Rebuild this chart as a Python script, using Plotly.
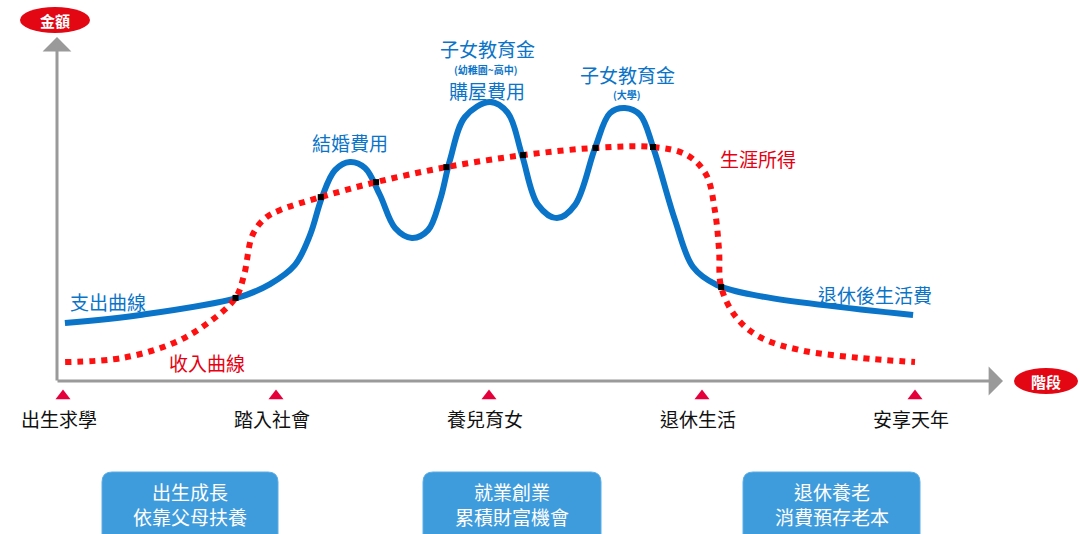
import plotly.graph_objects as go

# ---------------- data ----------------
stages = ["出生求學", "踏入社會", "養兒育女", "退休生活", "安享天年"]
stage_pos = [0, 1, 2, 3, 4]

# expenditure curve (支出曲線): x = life stage, y = amount
spend_x = [0.009, 0.362, 0.817, 0.972, 1.089, 1.160, 1.216, 1.277, 1.347, 1.418, 1.488,
           1.559, 1.638, 1.714, 1.770, 1.817, 1.887, 2.005, 2.089, 2.155, 2.230, 2.319,
           2.404, 2.498, 2.568, 2.638, 2.709, 2.770, 2.873, 2.958, 3.070, 3.272, 3.991]
spend_y = [19.3, 22.0, 27.7, 32.3, 38.7, 48.7, 61.3, 70.3, 73.0, 71.0, 62.0,
           51.0, 47.7, 50.3, 60.3, 73.7, 88.0, 93.0, 89.3, 75.3, 58.7, 54.3,
           58.7, 77.7, 89.3, 91.0, 88.7, 78.0, 53.7, 38.0, 32.0, 28.3, 22.0]

# income curve (收入曲線 / 生涯所得)
income_x = [0.01, 0.28, 0.52, 0.68, 0.81, 0.85, 0.89, 0.95, 1.02, 1.21, 1.47, 1.80, 2.16,
            2.50, 2.77, 2.93, 3.02, 3.06, 3.08, 3.09, 3.16, 3.27, 3.46, 3.74, 4.00]
income_y = [6.3, 7.7, 12.7, 19.3, 27.7, 35.3, 48.7, 54.3, 57.0, 61.3, 66.3, 71.3, 75.3,
            77.7, 78.0, 75.3, 68.7, 57.0, 43.7, 31.3, 21.3, 14.7, 10.3, 7.7, 6.3]

# crossing points of the two curves
cross_x = [0.81, 1.21, 1.47, 1.80, 2.16, 2.50, 2.77, 3.09]
cross_y = [27.7, 61.3, 66.3, 71.3, 75.3, 77.7, 78.0, 31.3]

# curve labels
blue_labels = ["支出曲線", "結婚費用", "子女教育金", "購屋費用", "子女教育金", "退休後生活費"]
blue_small_labels = ["(幼稚園~高中)", "(大學)"]
red_labels = ["收入曲線", "生涯所得"]

# phase boxes
phase_lines = [["出生成長", "依靠父母扶養"], ["就業創業", "累積財富機會"], ["退休養老", "消費預存老本"]]

# ---------------- helpers (pixel -> data) ----------------
X0, XS, Y0, YS = 63.0, 213.0, 381.0, 3.0
def px(p):
    return (p - X0) / XS
def py(p):
    return (Y0 - p) / YS

FONT = "Noto Sans CJK TC"
BLUE = "#0a74c8"
RED = "#ff1010"
GREY = "#9a9a9a"
FS = 19

fig = go.Figure()

fig.add_trace(go.Scatter(x=spend_x, y=spend_y, mode="lines",
                         line=dict(color=BLUE, width=6, shape="spline", smoothing=1.0),
                         hoverinfo="skip"))
fig.add_trace(go.Scatter(x=income_x, y=income_y, mode="lines",
                         line=dict(color=RED, width=6, shape="spline", smoothing=1.0, dash="6px,6px"),
                         hoverinfo="skip"))
fig.add_trace(go.Scatter(x=cross_x, y=cross_y, mode="markers",
                         marker=dict(color="black", size=6, symbol="square"),
                         hoverinfo="skip"))
# stage triangles
fig.add_trace(go.Scatter(x=stage_pos, y=[py(396)] * len(stage_pos), mode="markers",
                         marker=dict(color="#e5003c", size=13, symbol="triangle-up"),
                         hoverinfo="skip"))

ann = []
shapes = []

# axes with arrows
ann.append(dict(x=px(57), y=py(37), ax=px(57), ay=py(382), xref="x", yref="y", axref="x", ayref="y",
                showarrow=True, arrowhead=1, arrowsize=1.6, arrowwidth=3, arrowcolor=GREY, text=""))
ann.append(dict(x=px(1003), y=py(381), ax=px(56), ay=py(381), xref="x", yref="y", axref="x", ayref="y",
                showarrow=True, arrowhead=1, arrowsize=1.6, arrowwidth=3, arrowcolor=GREY, text=""))

# ovals
for (cx, cy, w, h, t) in [(55, 20, 70, 26, "金額"), (1046, 381, 64, 26, "階段")]:
    shapes.append(dict(type="circle", xref="x", yref="y", x0=px(cx - w / 2), x1=px(cx + w / 2),
                       y0=py(cy + h / 2), y1=py(cy - h / 2), fillcolor="#e30613", line=dict(width=0)))
    ann.append(dict(x=px(cx), y=py(cy), text="<b>" + t + "</b>", showarrow=False,
                    font=dict(family=FONT, size=15, color="white")))

# stage labels
for s, lab in zip(stage_pos, stages):
    ann.append(dict(x=s - 0.02, y=py(418), text=lab, showarrow=False,
                    font=dict(family=FONT, size=FS, color="#111111")))

# curve labels
blue_pos = [(108, 301), (350, 142), (487, 48), (487, 90), (627, 74), (875, 294)]
for (x, y), t in zip(blue_pos, blue_labels):
    ann.append(dict(x=px(x), y=py(y), text=t, showarrow=False,
                    font=dict(family=FONT, size=FS, color=BLUE)))
small_pos = [(485, 69), (627, 94)]
for (x, y), t in zip(small_pos, blue_small_labels):
    ann.append(dict(x=px(x), y=py(y), text="<b>" + t + "</b>", showarrow=False,
                    font=dict(family=FONT, size=10, color=BLUE)))
red_pos = [(207, 362), (758, 158)]
for (x, y), t in zip(red_pos, red_labels):
    ann.append(dict(x=px(x), y=py(y), text=t, showarrow=False,
                    font=dict(family=FONT, size=FS, color="#e60012")))

# phase boxes (rounded)
def rrect(x0, x1, y0, y1, r):
    rx, ry = r / XS, r / YS
    X0_, X1_ = px(x0), px(x1)
    Yt, Yb = py(y0), py(y1)
    return (f"M {X0_+rx},{Yt} L {X1_-rx},{Yt} Q {X1_},{Yt} {X1_},{Yt-ry} "
            f"L {X1_},{Yb+ry} Q {X1_},{Yb} {X1_-rx},{Yb} L {X0_+rx},{Yb} "
            f"Q {X0_},{Yb} {X0_},{Yb+ry} L {X0_},{Yt-ry} Q {X0_},{Yt} {X0_+rx},{Yt} Z")

box_px = [(102, 278), (423, 601), (743, 920)]
for (bx0, bx1), lines in zip(box_px, phase_lines):
    shapes.append(dict(type="path", xref="x", yref="y", path=rrect(bx0, bx1, 472, 545, 10),
                       fillcolor="#3f9cdc", line=dict(color="#5aaee6", width=1)))
    cx = px((bx0 + bx1) / 2)
    ann.append(dict(x=cx, y=py(491), text=lines[0], showarrow=False,
                    font=dict(family=FONT, size=FS, color="white")))
    ann.append(dict(x=cx, y=py(516), text=lines[1], showarrow=False,
                    font=dict(family=FONT, size=FS, color="white")))

fig.update_layout(
    width=1080, height=534, margin=dict(l=0, r=0, t=0, b=0),
    paper_bgcolor="white", plot_bgcolor="white", showlegend=False,
    xaxis=dict(range=[px(0), px(1080)], visible=False, fixedrange=True),
    yaxis=dict(range=[py(534), py(0)], visible=False, fixedrange=True),
    annotations=ann, shapes=shapes,
)

fig.write_html("out.html")
